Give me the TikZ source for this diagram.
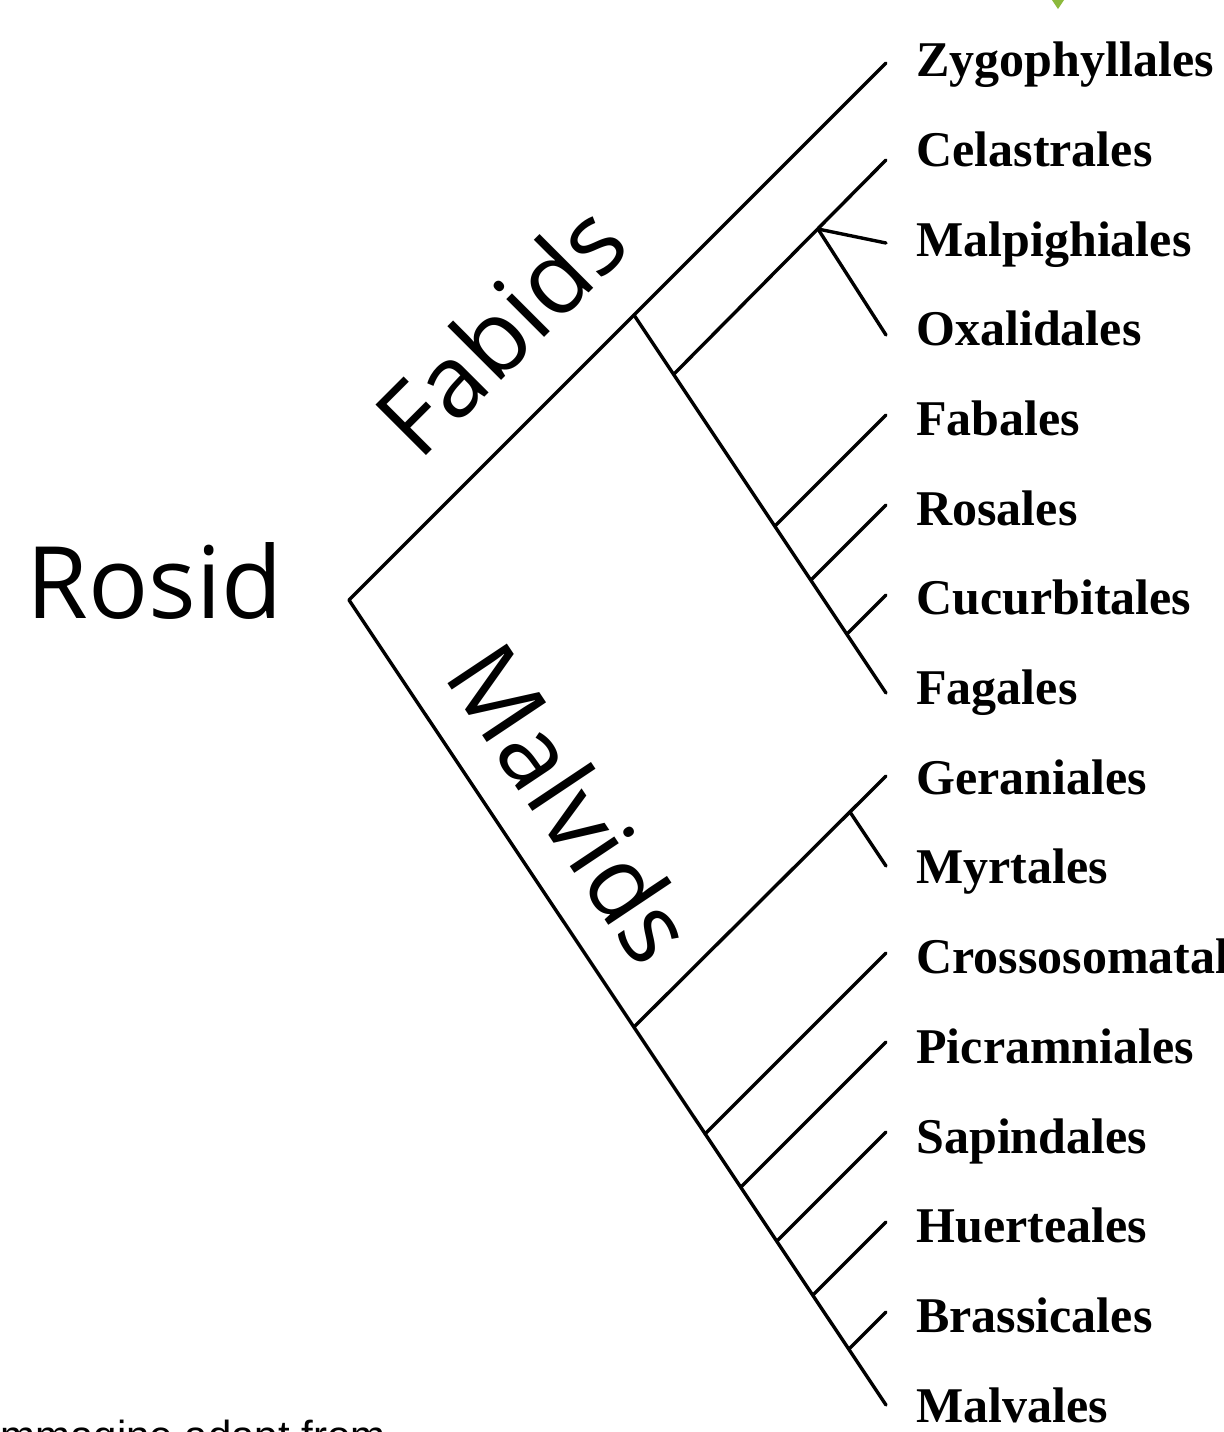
\documentclass[tikz,border=0pt]{standalone}
\usepackage{fontspec}
\setmainfont{Liberation Serif}
\newfontfamily\cladefont{Open Sans}
\newfontfamily\notefont{Liberation Sans}
\usepackage{xcolor}
\usetikzlibrary{calc, positioning}
\definecolor{leafgreen}{RGB}{140,185,60}

\begin{document}
\begin{tikzpicture}[x=0.5pt, y=-0.5pt,
    every node/.style={inner sep=0pt},
    branch/.style={line width=1.7pt, line cap=round, line join=round},
    order/.style={anchor=mid west, font=\bfseries\fontsize{25}{25}\selectfont},
    clade/.style={font=\cladefont\fontsize{50}{50}\selectfont},
  ]
  \useasboundingbox (0,0) rectangle (1223,1432);

  % orders and the tips of their branches
  \foreach \name/\txt/\ty [count=\i from 0] in {
      zyg/Zygophyllales/63, cel/Celastrales/160, mpg/Malpighiales/243,
      oxa/Oxalidales/335, fbl/Fabales/415, ros/Rosales/505,
      cuc/Cucurbitales/595, fag/Fagales/693, ger/Geraniales/776,
      myr/Myrtales/866, cro/Crossosomatales/953, pic/Picramniales/1042,
      sap/Sapindales/1132, hue/Huerteales/1222, bra/Brassicales/1312,
      mlv/Malvales/1405} {
    \node[order] (\name) at (916, 72+89.7*\i) {\txt};
    \coordinate (\name-tip) at (886, \ty);
  }

  % inner nodes of the tree
  \coordinate (root) at (349,600);
  \coordinate (fabids) at (634,315);
  \coordinate (n-cel) at (674,374);
  \coordinate (n-mpg) at (818,229);
  \coordinate (n-fbl) at (775,526);
  \coordinate (n-ros) at (811,580);
  \coordinate (n-cuc) at (847,634);
  \coordinate (malvids) at (634,1027);
  \coordinate (n-myr) at (850,812);
  \coordinate (n-cro) at (705,1134);
  \coordinate (n-pic) at (741,1187);
  \coordinate (n-sap) at (777,1241);
  \coordinate (n-hue) at (813,1295);
  \coordinate (n-bra) at (849,1349);

  \draw[branch] (zyg-tip) -- (fabids) -- (root) -- (mlv-tip);
  \draw[branch] (fabids) -- (fag-tip);
  \draw[branch] (n-cel) -- (cel-tip);
  \draw[branch] (n-mpg) -- (mpg-tip);
  \draw[branch] (n-mpg) -- (oxa-tip);
  \draw[branch] (n-fbl) -- (fbl-tip);
  \draw[branch] (n-ros) -- (ros-tip);
  \draw[branch] (n-cuc) -- (cuc-tip);
  \draw[branch] (malvids) -- (ger-tip);
  \draw[branch] (n-myr) -- (myr-tip);
  \draw[branch] (n-cro) -- (cro-tip);
  \draw[branch] (n-pic) -- (pic-tip);
  \draw[branch] (n-sap) -- (sap-tip);
  \draw[branch] (n-hue) -- (hue-tip);
  \draw[branch] (n-bra) -- (bra-tip);

  % clade names
  \node[clade, anchor=base west] (rosid) at (26,618) {Rosid};
  \path (root) -- (fabids) node[clade, sloped, pos=0.74, above=23pt] (fabids-lbl) {Fabids};
  \path (root) -- (malvids) node[clade, sloped, pos=0.57, above=17pt] (malvids-lbl) {Malvids};

  \node[anchor=base west, font=\notefont\fontsize{21}{21}\selectfont] (credit) at (0,1450) {mmagine adapt from};
  \fill[leafgreen] (1052,0) -- (1064,0) -- (1058,9) -- cycle;
\end{tikzpicture}
\end{document}
